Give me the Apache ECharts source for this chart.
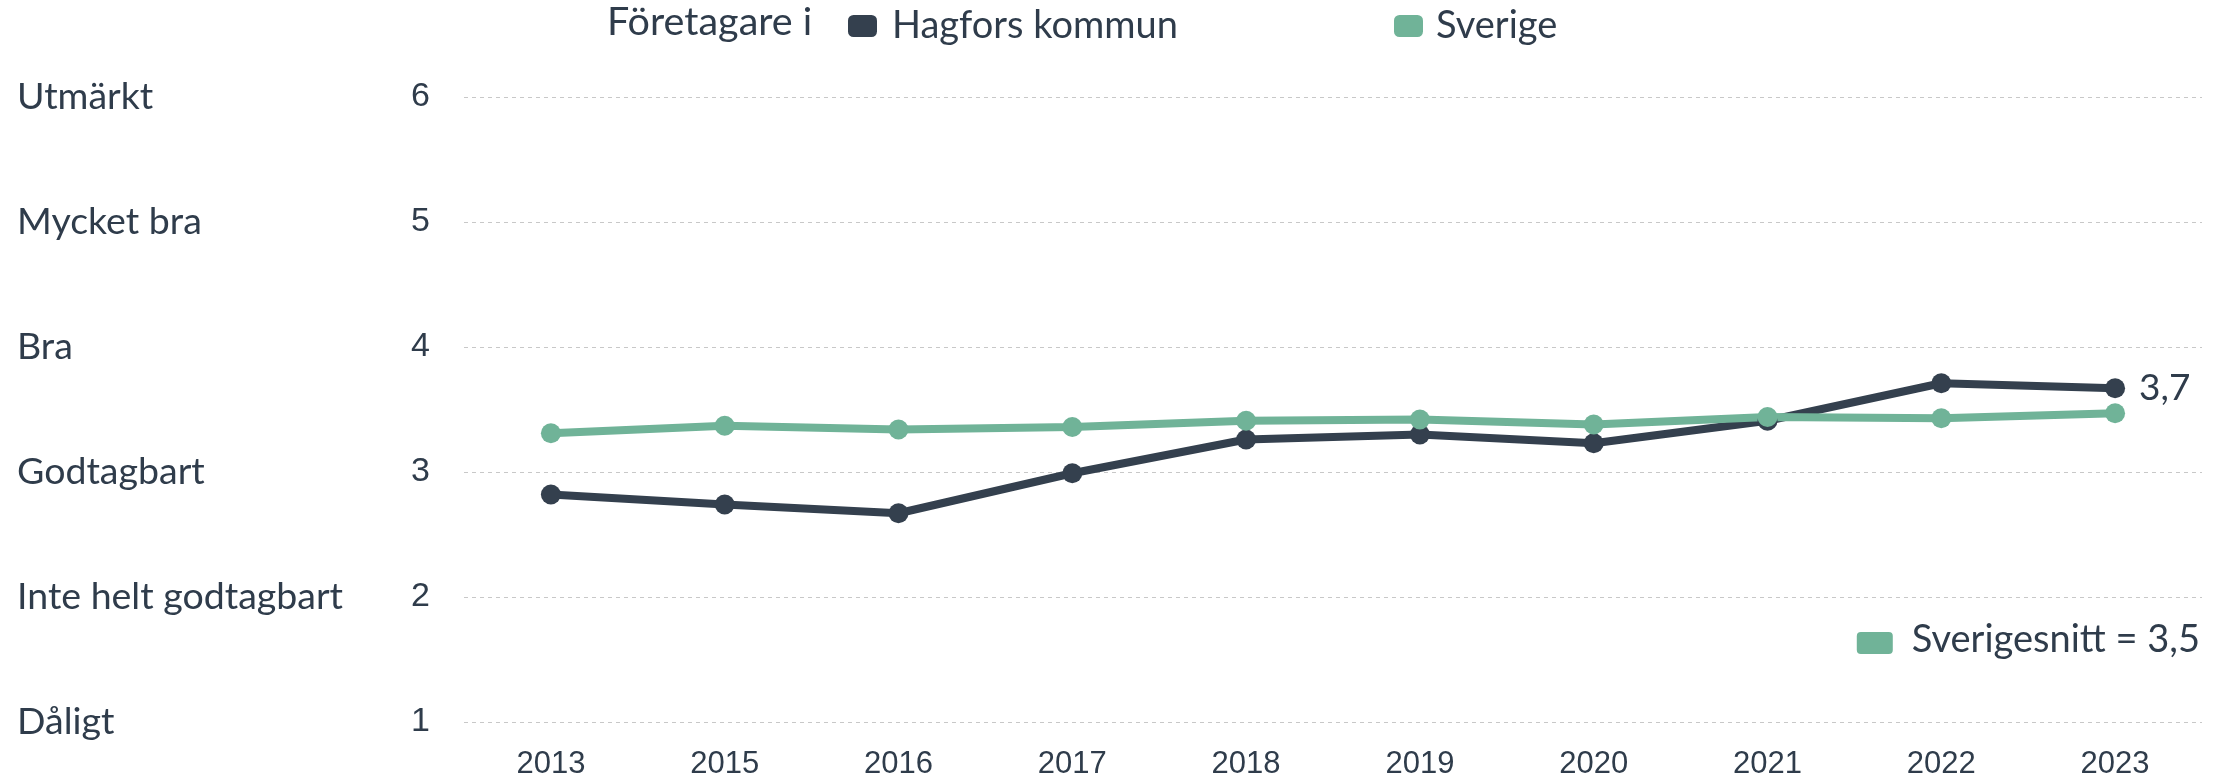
<!DOCTYPE html>
<html>
<head>
<meta charset="utf-8">
<script src="https://cdn.jsdelivr.net/npm/echarts@6/dist/echarts.min.js"></script>
<style>
html,body{margin:0;padding:0;background:#fff;}
#chart{width:2232px;height:780px;}
</style>
</head>
<body>
<div id="chart"></div>
<script>
const years = ['2013','2015','2016','2017','2018','2019','2020','2021','2022','2023'];
const hagfors = [2.82, 2.74, 2.67, 2.99, 3.26, 3.30, 3.23, 3.41, 3.71, 3.67];
const sverige = [3.31, 3.37, 3.34, 3.36, 3.41, 3.42, 3.38, 3.44, 3.43, 3.47];
const yTicks = [1, 2, 3, 4, 5, 6];
const yNames = ['Dåligt', 'Inte helt godtagbart', 'Godtagbart', 'Bra', 'Mycket bra', 'Utmärkt'];
const seriesNames = ['Hagfors kommun', 'Sverige'];
const legendPrefix = 'Företagare i';
const avgLabel = 'Sverigesnitt';

const DARK = '#34404e';
const GREEN = '#70b398';
const TEXT = '#2f3c4b';
const FONT = 'Lato';
const fmt = v => v.toFixed(1).replace('.', ',');

const chart = echarts.init(document.getElementById('chart'), null, {renderer: 'canvas'});
chart.setOption({
  animation: false,
  backgroundColor: '#fff',
  grid: {left: 464, right: 30, top: 97, bottom: 53, containLabel: false},
  legend: [
    {data: [seriesNames[0]], left: 843, top: 2, itemWidth: 29, itemHeight: 22, icon: 'roundRect',
     textStyle: {fontFamily: FONT, fontSize: 38, color: TEXT, padding: [0,0,0,10]}, selectedMode: false},
    {data: [seriesNames[1]], left: 1389, top: 2, itemWidth: 29, itemHeight: 22, icon: 'roundRect',
     textStyle: {fontFamily: FONT, fontSize: 38, color: TEXT, padding: [0,0,0,8]}, selectedMode: false}
  ],
  graphic: [
    {type: 'text', left: 607, top: 2, style: {text: legendPrefix, fontFamily: FONT, fontSize: 39.5, fill: TEXT}},
    {type: 'group', right: 32, top: 621, children: [
      {type: 'rect', shape: {x: 0, y: 11, width: 36, height: 22, r: 4}, style: {fill: GREEN}},
      {type: 'text', x: 55, y: 0, style: {text: avgLabel + ' = ' + fmt(sverige[sverige.length-1]), fontFamily: FONT, fontSize: 38, fill: TEXT}}
    ]}
  ],
  xAxis: {
    type: 'category', data: years, boundaryGap: true,
    axisLine: {show: false}, axisTick: {show: false},
    axisLabel: {fontFamily: 'Liberation Sans', fontSize: 31, color: TEXT, margin: 27}
  },
  yAxis: [
    {type: 'value', min: yTicks[0], max: yTicks[yTicks.length-1], interval: 1,
     axisLine: {show: false}, axisTick: {show: false},
     splitLine: {lineStyle: {color: '#c8c8c8', type: [4, 4], width: 1}},
     axisLabel: {fontFamily: 'Liberation Sans', fontSize: 34, color: TEXT, margin: 34}},
    {type: 'value', min: yTicks[0], max: yTicks[yTicks.length-1], interval: 1, position: 'left',
     axisLine: {show: false}, axisTick: {show: false}, splitLine: {show: false},
     axisLabel: {fontFamily: FONT, fontSize: 37.5, color: TEXT, margin: 447, align: 'left',
       formatter: v => yNames[yTicks.indexOf(v)] || ''}}
  ],
  series: [
    {name: seriesNames[0], type: 'line', data: hagfors, symbol: 'circle', symbolSize: 20,
     itemStyle: {color: DARK}, lineStyle: {color: DARK, width: 8},
     label: {show: true, position: 'right', distance: 14, fontFamily: FONT, fontSize: 37, color: TEXT,
       formatter: p => p.dataIndex === hagfors.length - 1 ? fmt(p.value) : ''}},
    {name: seriesNames[1], type: 'line', data: sverige, symbol: 'circle', symbolSize: 20,
     itemStyle: {color: GREEN}, lineStyle: {color: GREEN, width: 8}}
  ]
});
</script>
</body>
</html>
